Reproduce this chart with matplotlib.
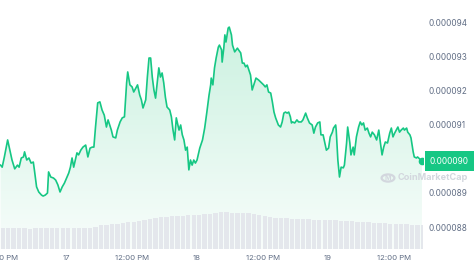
import numpy as np
import matplotlib
matplotlib.use("Agg")
from matplotlib import pyplot as plt
from matplotlib import transforms
from matplotlib.colors import LinearSegmentedColormap
from matplotlib.patches import Circle

plt.rcParams['font.family'] = ['Inter', 'DejaVu Sans']

# hours since 16th 12:00 PM
hours = [0.0, 0.3, 0.7, 1.3, 1.7, 2.1, 2.6, 3.1, 3.4, 3.8, 4.2, 4.4, 4.8, 5.2, 5.6, 6.0,
         6.2, 6.6, 7.0, 7.5, 7.8, 8.2, 8.6, 8.8, 9.2, 9.7, 10.1, 10.5, 10.9, 11.3, 11.7,
         12.1, 12.5, 12.8, 13.1, 13.4, 13.7, 14.0, 14.3, 14.7, 15.1, 15.6, 16.0, 16.4,
         16.8, 17.1, 17.4, 17.8, 18.2, 18.6, 19.0, 19.4, 19.7, 20.3, 20.6, 21.1, 21.4,
         21.9, 22.3, 22.7, 23.1, 23.3, 23.7, 24.1, 24.4, 24.9, 25.1, 25.5, 25.8, 26.1,
         26.6, 26.9, 27.2, 27.5, 27.8, 28.1, 28.4, 28.7, 29.0, 29.3, 29.6, 29.9, 30.2,
         30.5, 31.0, 31.3, 31.6, 31.9, 32.2, 32.7, 33.0, 33.3, 33.6, 33.9, 34.2, 34.5,
         34.8, 35.1, 35.4, 35.7, 36.0, 36.5, 37.0, 37.4, 37.8, 38.2, 38.5, 38.6, 38.9,
         39.2, 39.5, 39.9, 40.1, 40.5, 40.6, 40.9, 41.1, 41.3, 41.7, 41.9, 42.3, 42.5,
         42.9, 43.4, 43.6, 44.0, 44.3, 44.6, 44.9, 45.2, 45.5, 45.8, 46.1, 46.4, 46.8,
         47.3, 47.8, 48.2, 48.5, 48.8, 49.1, 49.5, 49.8, 50.1, 50.4, 50.9, 51.3, 51.6,
         51.9, 52.2, 52.5, 52.8, 53.1, 53.3, 53.5, 53.9, 54.3, 54.6, 55.1, 55.4, 55.9,
         56.2, 56.6, 57.1, 57.4, 57.7, 58.1, 58.5, 58.7, 59.1, 59.3, 59.7, 60.1, 60.4,
         60.8, 61.0, 61.4, 61.5, 61.8, 62.1, 62.4, 62.8, 63.0, 63.4, 63.6, 64.0, 64.2,
         64.6, 64.8, 65.2, 65.6, 65.9, 66.2, 66.5, 66.8, 67.2, 67.5, 67.8, 68.1, 68.5,
         68.9, 69.3, 69.6, 69.9, 70.2, 70.5, 70.9, 71.3, 71.6, 71.9, 72.2, 72.5, 72.8,
         73.1, 73.4, 73.8, 74.0, 74.4, 74.6, 75.0, 75.2, 75.6, 75.8, 76.2, 76.4, 76.8, 77.2]

# price in millionths of a dollar
price = [89.82, 89.76, 90.06, 90.56, 90.26, 89.97, 89.71, 89.82, 89.76, 90.03, 90.06, 90.21,
         89.97, 90.03, 89.88, 89.91, 89.68, 89.18, 89.03, 88.94, 88.91, 88.94, 89.00, 89.62,
         89.47, 89.44, 89.38, 89.24, 89.03, 89.18, 89.29, 89.44, 89.59, 89.76, 90.03, 89.76,
         89.97, 90.18, 90.12, 90.26, 90.35, 90.41, 90.06, 90.32, 90.35, 90.35, 90.94, 91.65,
         91.68, 91.44, 91.29, 90.94, 91.15, 90.85, 90.65, 90.62, 90.85, 91.09, 91.21, 91.24,
         92.24, 92.56, 92.18, 92.12, 91.97, 92.12, 92.18, 91.88, 91.74, 91.50, 91.74, 92.41,
         92.97, 92.97, 92.41, 92.03, 91.79, 92.24, 92.68, 92.41, 92.53, 92.24, 91.82, 91.53,
         91.44, 91.24, 90.85, 90.56, 91.21, 90.85, 91.00, 90.71, 90.56, 90.26, 90.35, 89.68,
         89.97, 89.82, 89.97, 89.88, 89.97, 90.32, 90.56, 90.91, 91.38, 91.88, 92.18, 92.38,
         92.18, 92.68, 92.97, 93.29, 93.35, 93.21, 92.85, 93.26, 93.65, 93.44, 93.85, 93.88,
         93.65, 93.35, 93.15, 93.26, 93.21, 93.12, 92.82, 92.82, 92.71, 92.76, 92.62, 92.47,
         92.03, 92.18, 92.38, 92.32, 92.24, 92.18, 92.12, 92.18, 91.97, 91.94, 91.68, 91.38,
         91.21, 91.00, 90.94, 91.09, 91.35, 91.38, 91.35, 91.38, 91.24, 91.06, 91.09, 91.06,
         91.15, 91.09, 91.09, 91.15, 91.35, 91.21, 91.06, 91.00, 90.76, 90.94, 91.06, 91.09,
         90.71, 90.71, 90.56, 90.26, 90.32, 90.65, 90.79, 90.91, 91.00, 90.85, 89.97, 89.47,
         89.76, 89.74, 89.82, 90.47, 90.94, 90.47, 90.12, 90.35, 90.12, 90.65, 90.94, 91.09,
         91.00, 91.06, 90.85, 90.91, 90.76, 90.65, 90.79, 90.71, 90.56, 90.85, 90.47, 90.12,
         90.35, 90.50, 90.47, 90.76, 90.91, 90.65, 90.76, 90.85, 90.94, 90.79, 90.85, 90.91,
         90.85, 90.91, 90.79, 90.71, 90.62, 90.21, 90.06, 90.03, 90.06, 90.00, 89.94]

# hourly volume (arbitrary units)
vol_hours = list(range(78))
volume = [21, 21, 21, 21, 21, 20, 21, 21, 21, 21, 21, 21, 21, 21, 21, 21, 21, 22, 24, 24,
          25, 25, 26, 27, 27, 28, 29, 30, 31, 32, 32, 33, 33, 33, 34, 34, 34, 35, 35, 36,
          37, 37, 36, 36, 36, 36, 35, 34, 33, 32, 31, 31, 31, 30, 30, 30, 30, 29, 29, 29,
          29, 29, 28, 28, 28, 27, 27, 27, 26, 26, 26, 25, 25, 25, 25, 24, 24, 24]

tick_hours = [0, 12, 24, 36, 48, 60, 72]
tick_labels = ['12:00 PM', '17', '12:00 PM', '18', '12:00 PM', '19', '12:00 PM']
price_ticks = [88, 89, 90, 91, 92, 93, 94]

green = '#16c784'
grey = '#616e85'

t = np.array(hours)
p = np.array(price) * 1e-6

fig = plt.figure(figsize=(4.74, 2.66), dpi=100)
rect = [0, 17 / 266, 423 / 474, 249 / 266]
ax = fig.add_axes(rect)
xlim = (-0.1, 77.4)
ylim = (87.353e-6, 94.676e-6)
ax.set_xlim(xlim)
ax.set_ylim(ylim)

# gradient under the line
cmap = LinearSegmentedColormap.from_list('g', ['#f8fdfb', '#c6f0dd'])
grad = np.linspace(0, 1, 256).reshape(-1, 1)
im = ax.imshow(grad, cmap=cmap, origin='lower', aspect='auto',
               extent=[xlim[0], xlim[1], ylim[0], ylim[1]], zorder=1)
poly = ax.fill_between(t, p, ylim[0], color='none', lw=0)
path = poly.get_paths()[0]
im.set_clip_path(path, transform=ax.transData)

ax.plot(t, p, color=green, lw=1.2, zorder=3)
ax.plot(t[-1], p[-1], 'o', color=green, ms=4.5, zorder=4)

for s in ax.spines.values():
    s.set_visible(False)
ax.yaxis.tick_right()
ax.set_yticks([v * 1e-6 for v in price_ticks])
# the 0.000090 level is shown by the price tag instead
ax.set_yticklabels(['' if v == 90 else '%.6f' % (v * 1e-6) for v in price_ticks])
ax.tick_params(axis='y', length=0, pad=4, labelsize=5.9, labelcolor=grey)
ax.set_xticks(tick_hours)
ax.set_xticklabels(tick_labels)
ax.tick_params(axis='x', length=0, pad=4, labelsize=5.6, labelcolor=grey)

# current price tag
trans = transforms.blended_transform_factory(ax.transAxes, ax.transData)
ax.text(1.016, p[-1], '%.6f' % p[-1], transform=trans, ha='left', va='center',
        fontsize=5.9, color='white', zorder=6,
        bbox=dict(boxstyle='square,pad=0.62', fc=green, ec='none'))

# volume bars
axv = fig.add_axes(rect, sharex=ax)
axv.set_ylim(0, 249)
axv.patch.set_alpha(0)
axv.axis('off')
axv.bar(vol_hours, volume, width=0.8, color='#e4e7ec', align='edge', lw=0)
axv.set_xlim(xlim)

# watermark
fig.patches.append(Circle((388 / 474, 1 - 178 / 266), 0.0135, transform=fig.transFigure,
                          fill=False, ec='#d3d7de', lw=1.6, zorder=10))
fig.text(388 / 474, 1 - 178 / 266, 'M', ha='center', va='center', fontsize=5,
         color='#d3d7de', weight='bold', zorder=10)
fig.text(398 / 474, 1 - 178 / 266, 'CoinMarketCap', ha='left', va='center', fontsize=6.6,
         color='#d3d7de', weight='bold', zorder=10)

fig.savefig('out.png', dpi=100)
